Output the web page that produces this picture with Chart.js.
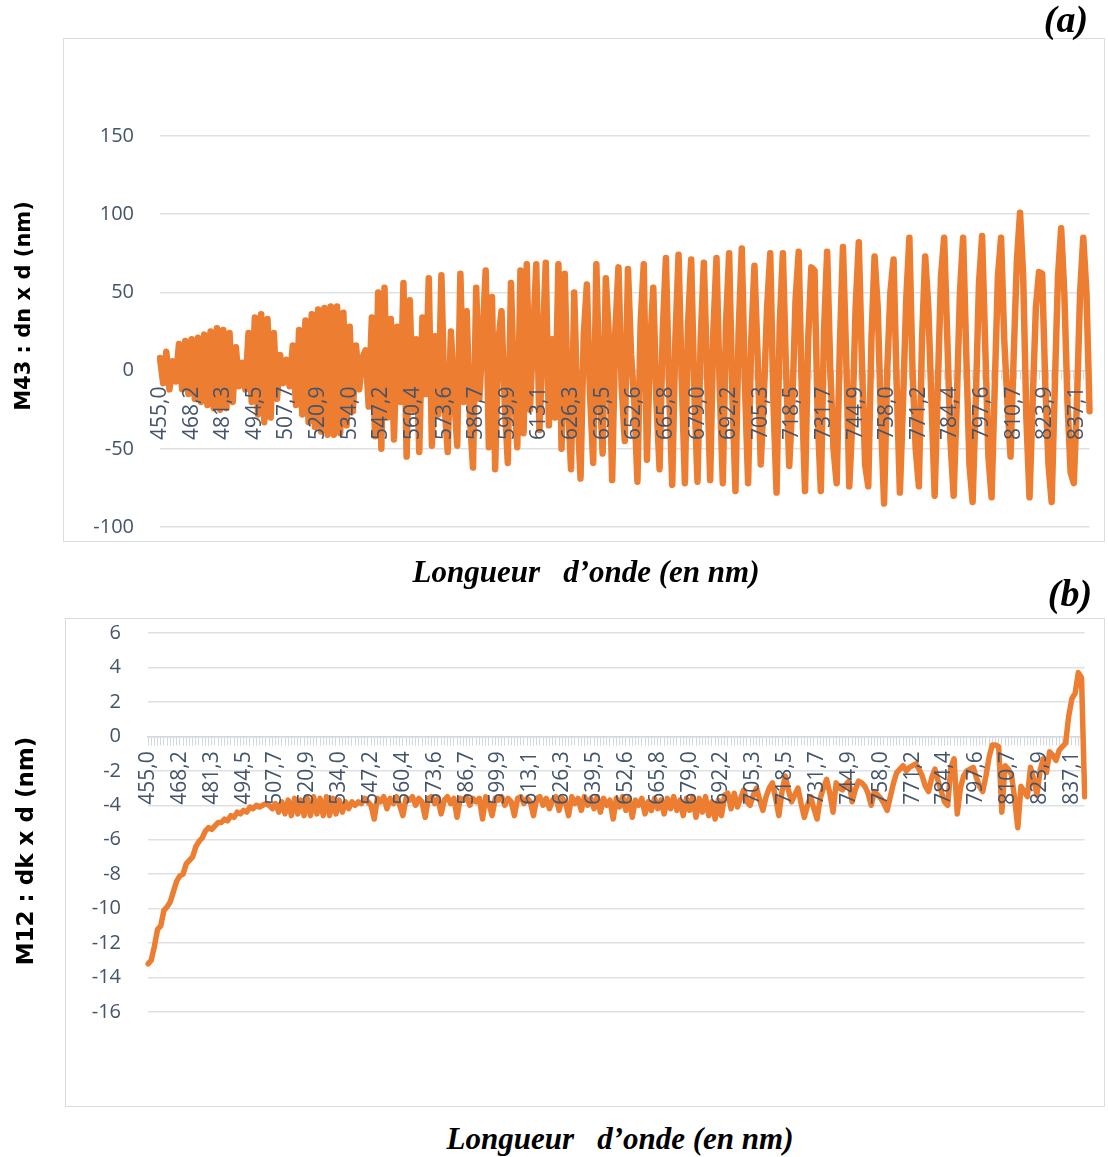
<!DOCTYPE html>
<html><head><meta charset="utf-8">
<script src="https://cdn.jsdelivr.net/npm/chart.js@4.4.1/dist/chart.umd.min.js"></script>
<style>
html,body{margin:0;padding:0;background:#fff;}
#page{position:relative;width:1108px;height:1157px;overflow:hidden;background:#fff;}
.frame{position:absolute;border:1.5px solid #d9dde3;box-sizing:border-box;}
.wrap{position:absolute;left:0;width:1108px;}
.ytitle{position:absolute;transform:translate(-50%,-50%) rotate(-90deg);white-space:nowrap;font-family:'DejaVu Sans';font-weight:bold;color:#000;}
.xtitle{position:absolute;transform:translate(-50%,-50%);white-space:nowrap;font-family:'Liberation Serif';font-weight:bold;font-style:italic;font-size:31px;color:#000;}
.tag{position:absolute;transform:translate(-50%,-50%);white-space:nowrap;font-family:'Liberation Serif';font-weight:bold;font-style:italic;font-size:38px;color:#000;}
</style></head>
<body>
<div id="page">
  <div class="frame" style="left:63px;top:38px;width:1042px;height:504px;"></div>
  <div class="frame" style="left:65px;top:618px;width:1040px;height:489px;"></div>
  <div class="wrap" style="top:0;height:560px;"><canvas id="chartA"></canvas></div>
  <div class="wrap" style="top:600px;height:520px;"><canvas id="chartB"></canvas></div>
  <div class="ytitle" style="left:23px;top:306px;font-size:21px;">M43 : dn x d (nm)</div>
  <div class="ytitle" style="left:25px;top:851px;font-size:23px;">M12 : dk x d (nm)</div>
  <div class="xtitle" style="left:586px;top:572px;">Longueur&nbsp;&nbsp;&nbsp;d’onde (en nm)</div>
  <div class="xtitle" style="left:620px;top:1139px;">Longueur&nbsp;&nbsp;&nbsp;d’onde (en nm)</div>
  <div class="tag" style="left:1066px;top:19px;">(a)</div>
  <div class="tag" style="left:1070px;top:593px;">(b)</div>
</div>
<script>
const TICK_LABELS = ['455,0','468,2','481,3','494,5','507,7','520,9','534,0','547,2','560,4','573,6',
  '586,7','599,9','613,1','626,3','639,5','652,6','665,8','679,0','692,2','705,3',
  '718,5','731,7','744,9','758,0','771,2','784,4','797,6','810,7','823,9','837,1'];
const LAMBDA_START = 455.0;
const LAMBDA_STEP = 1.3176;

const M43 = [
  8, -8, 12, -12, 6, -7, 17, -12, 19, -15,
  20, -18, 21, -20, 23, -22, 25, -24, 27, -25,
  26, -24, 24, -20, 15, -10, 5, -12, 24, -20,
  34, -28, 36, -33, 33, -30, 24, -18, 10, -8,
  7, -10, 16, -22, 26, -28, 32, -33, 36, -36,
  39, -39, 40, -41, 41, -41, 41, -40, 37, -35,
  28, -26, 16, -12, 8, 13, -23, 34, -42, 50,
  -50, 53, -30, 33, -44, 28, -20, 56, -55, 45,
  -25, 20, -52, 34, -15, 59, -48, 22, -28, 61,
  -22, -52, 25, -15, -48, 62, -20, 38, -30, -62,
  53, -18, 20, 64, -49, 47, -63, 18, 38, -20,
  -59, 56, -15, -49, 64, -40, 68, -25, 22, 68,
  -38, 15, 69, -35, 20, -30, 68, -50, 62, -20,
  -63, 50, -25, -69, 22, 55, -15, -59, 68, -10,
  -53, 59, 20, -70, 25, 66, -10, -45, 65, 10,
  -20, -71, 30, 68, -57, 15, 53, -20, -63, 25,
  72, -10, -73, 20, 74, -5, -72, 30, 71, -15,
  -71, 20, 69, 0, -70, 25, 72, -10, -72, 30,
  75, -15, -77, 25, 78, -10, -72, 20, 67, 10,
  -60, -15, 40, 75, -20, -78, 30, 75, 0, -61,
  -20, 45, 76, -15, -77, 20, 66, 64, -30, -77,
  25, 76, 0, -50, -72, 15, 79, 10, -74, -30,
  40, 82, 5, -60, -74, 20, 73, 40, -30, -85,
  0, 50, 71, -10, -78, -20, 45, 85, 0, -50,
  -74, 20, 73, 40, -20, -80, -10, 60, 85, 20,
  -45, -80, -20, 50, 85, 10, -60, -84, -20, 55,
  86, 15, -55, -81, -10, 60, 85, 20, -20, -55,
  10, 70, 101, 60, -30, -81, -20, 40, 63, 62,
  -10, -60, -84, -10, 60, 91, 50, -20, -65, -72,
  -20, 50, 85, 50, -26
];

const M12 = [
  -13.2, -13.0, -12.2, -11.2, -11.0, -10.1, -9.9, -9.6, -9.0, -8.4,
  -8.1, -8.0, -7.4, -7.2, -7.0, -6.4, -6.1, -5.9, -5.5, -5.3,
  -5.4, -5.2, -5.0, -5.0, -4.8, -4.9, -4.6, -4.7, -4.4, -4.5,
  -4.3, -4.4, -4.1, -4.2, -4.0, -4.1, -4.0, -3.9, -4.0, -4.2,
  -3.9, -4.4, -3.8, -4.5, -3.7, -4.6, -3.6, -4.5, -3.7, -4.6,
  -3.6, -4.6, -3.5, -4.5, -3.6, -4.6, -3.5, -4.6, -3.6, -4.5,
  -3.7, -4.4, -3.8, -4.2, -3.8, -4.0, -3.8, -3.9, -3.6, -3.8,
  -4.0, -4.8, -3.6, -3.8, -3.5, -4.2, -3.6, -3.9, -3.5, -4.0,
  -4.6, -3.6, -3.7, -3.5, -4.0, -3.6, -3.8, -4.7, -3.6, -3.5,
  -3.9, -3.6, -4.5, -3.7, -3.5, -3.9, -3.6, -4.7, -3.6, -3.7,
  -3.5, -4.0, -3.6, -3.8, -3.6, -4.8, -3.5, -3.9, -4.6, -3.6,
  -3.7, -3.5, -4.0, -3.6, -3.8, -4.6, -3.6, -3.5, -3.9, -3.6,
  -3.8, -4.6, -3.6, -3.5, -4.0, -3.6, -4.2, -3.7, -3.5, -4.3,
  -3.6, -3.8, -4.6, -3.5, -3.9, -3.6, -4.3, -3.5, -4.0, -3.6,
  -4.2, -3.5, -4.4, -3.6, -4.0, -3.7, -4.8, -3.6, -4.1, -3.5,
  -4.3, -3.6, -4.7, -3.7, -4.0, -3.6, -4.5, -3.8, -4.3, -3.6,
  -4.2, -3.7, -4.5, -3.6, -4.2, -3.5, -4.3, -3.7, -4.6, -3.6,
  -4.3, -3.5, -4.7, -3.6, -4.4, -3.5, -4.6, -3.8, -4.8, -3.7,
  -4.6, -3.4, -3.3, -4.2, -3.3, -4.1, -3.6, -3.1, -3.8, -4.0,
  -3.4, -3.0, -3.7, -4.3, -3.5, -3.0, -2.7, -3.6, -4.6, -3.2,
  -2.3, -3.1, -3.8, -3.4, -3.0, -3.9, -4.7, -4.0, -3.5, -4.2,
  -4.8, -3.6, -3.0, -2.5, -3.3, -4.4, -2.7, -3.0, -3.1, -2.8,
  -2.6, -3.8, -3.1, -2.6, -2.7, -2.9, -3.3, -4.0, -3.2, -3.4,
  -3.6, -3.9, -4.3, -3.5, -2.7, -2.1, -1.9, -1.7, -2.0, -1.8,
  -1.7, -1.6, -1.9, -2.3, -2.9, -3.2, -2.4, -1.9, -2.6, -3.2,
  -3.8, -4.0, -1.8, -1.3, -4.5, -3.0, -2.3, -2.0, -1.9, -1.8,
  -2.4, -2.9, -3.2, -2.3, -1.2, -0.5, -0.5, -0.6, -4.4, -1.7,
  -1.9, -2.2, -3.6, -5.3, -2.9, -3.2, -3.5, -1.8, -2.5, -3.4,
  -2.0, -1.3, -2.1, -0.9, -1.1, -1.4, -0.8, -0.6, -0.4, 1.2,
  2.2, 2.5, 3.7, 3.4, -3.5
];

const wavelengths = M43.map((_, i) => (LAMBDA_START + i * LAMBDA_STEP).toFixed(1).replace('.', ','));

const AXIS_GREY = '#d3d8de';
const GRID_GREY = '#dde1e6';
const TEXT_COLOR = '#44546a';
const LINE_COLOR = '#ED7D31';

function build(id, values, cfg) {
  return new Chart(document.getElementById(id), {
    type: 'line',
    data: {
      labels: wavelengths,
      datasets: [{
        data: values,
        borderColor: LINE_COLOR,
        borderWidth: cfg.lw,
        pointRadius: 0,
        tension: 0,
        fill: false,
        borderJoinStyle: 'round',
        borderCapStyle: 'round'
      }]
    },
    options: {
      responsive: true,
      maintainAspectRatio: false,
      animation: false,
      devicePixelRatio: 1,
      layout: { padding: cfg.pad },
      plugins: { legend: { display: false }, tooltip: { enabled: false } },
      scales: {
        x: {
          type: 'category',
          position: { y: 0 },
          offset: false,
          grid: { drawOnChartArea: false, drawTicks: true, tickLength: cfg.tl, color: AXIS_GREY, lineWidth: 1 },
          border: { display: true, color: AXIS_GREY, width: 1.5 },
          ticks: {
            autoSkip: false, maxRotation: 90, minRotation: 90, padding: cfg.tp,
            color: TEXT_COLOR, font: { family: 'Open Sans', size: 21 }, z: 1,
            callback: (v, i) => (i % 10 === 0 && TICK_LABELS[i / 10]) ? TICK_LABELS[i / 10] : ''
          },
          afterFit: s => { s.paddingLeft = 0; s.paddingRight = 0; }
        },
        y: {
          min: cfg.min, max: cfg.max,
          ticks: { stepSize: cfg.step, color: TEXT_COLOR, font: { family: 'Open Sans', size: 20 }, padding: cfg.yp },
          grid: { color: GRID_GREY, lineWidth: 1.5, drawTicks: false },
          border: { display: false },
          afterFit: s => { s.width = cfg.yw; s.paddingTop = 0; s.paddingBottom = 0; }
        }
      }
    }
  });
}

build('chartA', M43, {
  lw: 6.5, pad: { left: 0, top: 136, right: 18.4, bottom: 33 }, yw: 160,
  min: -100, max: 150, step: 50, yp: 26, tl: 8, tp: 8
});
build('chartB', M12, {
  lw: 5.5, pad: { left: 0, top: 33, right: 23.3, bottom: 108 }, yw: 148,
  min: -16, max: 6, step: 2, yp: 27, tl: 8, tp: 7
});
</script>
</body></html>
